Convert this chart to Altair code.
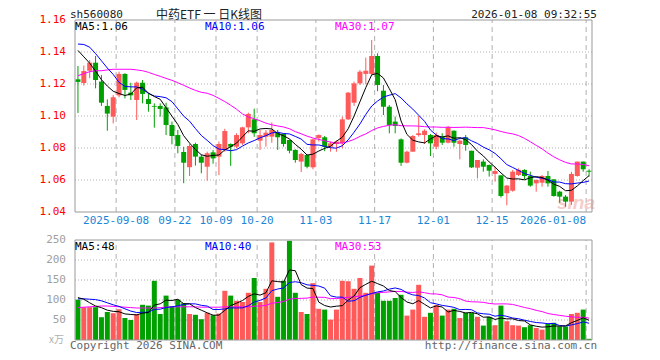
import altair as alt
import pandas as pd

# ---------------- data ----------------
opens = [1.1229,1.1206,1.1283,1.1333,1.1215,1.1063,1.0996,1.1129,1.1263,1.1146,
         1.1100,1.1208,1.1106,1.1063,1.1063,1.1054,1.0944,1.0881,1.0775,1.0680,
         1.0825,1.0746,1.0683,1.0773,1.0746,1.0788,1.0825,1.0808,1.0829,1.0929,
         1.0979,1.0846,1.0871,1.0871,1.0896,1.0888,1.0850,1.0788,1.0715,1.0756,
         1.0679,1.0862,1.0867,1.0808,1.0825,1.0829,1.0979,1.1083,1.1204,1.1263,
         1.1263,1.1375,1.1158,1.1058,1.0965,1.0854,1.0708,1.0777,1.0881,1.0881,
         1.0881,1.0808,1.0871,1.0833,1.0908,1.0825,1.0867,1.0783,1.0677,1.0715,
         1.0694,1.0638,1.0629,1.0517,1.0533,1.0631,1.0663,1.0625,1.0579,1.0583,
         1.0625,1.0604,1.0527,1.0496,1.0465,1.0625,1.0715,1.0658]
closes = [1.1213,1.1281,1.1333,1.1225,1.1083,1.1015,1.1117,1.1263,1.1163,1.1129,
          1.1208,1.1138,1.1075,1.1058,1.1044,1.0944,1.0875,1.0813,1.0708,1.0813,
          1.0746,1.0708,1.0767,1.0735,1.0825,1.0906,1.0808,1.0881,1.0929,1.1013,
          1.0892,1.0881,1.0896,1.0913,1.0867,1.0825,1.0783,1.0725,1.0763,1.0683,
          1.0854,1.0881,1.0808,1.0829,1.0840,1.0979,1.1146,1.1204,1.1277,1.1283,
          1.1375,1.1194,1.1058,1.0944,1.0938,1.0708,1.0777,1.0875,1.0892,1.0908,
          1.0829,1.0881,1.0833,1.0929,1.0833,1.0846,1.0819,1.0679,1.0725,1.0683,
          1.0658,1.0656,1.0500,1.0565,1.0652,1.0663,1.0625,1.0565,1.0600,1.0625,
          1.0579,1.0500,1.0496,1.0465,1.0638,1.0715,1.0667,1.0652]
highs = [1.1313,1.1315,1.1350,1.1375,1.1256,1.1104,1.1131,1.1277,1.1267,1.1208,
         1.1215,1.1225,1.1142,1.1079,1.1079,1.1083,1.0965,1.0913,1.0808,1.0825,
         1.0833,1.0760,1.0777,1.0787,1.0840,1.0920,1.0829,1.0892,1.0933,1.1021,
         1.1046,1.0913,1.0913,1.0960,1.0913,1.0892,1.0854,1.0792,1.0769,1.0760,
         1.0858,1.0885,1.0875,1.0840,1.0846,1.0996,1.1150,1.1215,1.1288,1.1365,
         1.1475,1.1392,1.1194,1.1069,1.0996,1.0860,1.0783,1.0881,1.1000,1.0917,
         1.0888,1.0896,1.0892,1.0938,1.0910,1.0854,1.0881,1.0783,1.0725,1.0729,
         1.0696,1.0683,1.0629,1.0569,1.0663,1.0673,1.0667,1.0652,1.0604,1.0631,
         1.0656,1.0604,1.0533,1.0506,1.0652,1.0715,1.0715,1.0667]
lows = [1.1019,1.1190,1.1236,1.1173,1.1063,1.0908,1.0954,1.1117,1.1110,1.1100,
        1.0975,1.1079,1.1027,1.0927,1.0996,1.0881,1.0823,1.0767,1.0580,1.0625,
        1.0690,1.0642,1.0596,1.0702,1.0631,1.0777,1.0688,1.0798,1.0819,1.0892,
        1.0870,1.0788,1.0808,1.0833,1.0788,1.0808,1.0767,1.0708,1.0650,1.0673,
        1.0667,1.0840,1.0780,1.0777,1.0777,1.0798,1.0975,1.1063,1.1194,1.1198,
        1.1256,1.1155,1.1006,1.0892,1.0892,1.0688,1.0704,1.0777,1.0871,1.0825,
        1.0750,1.0792,1.0819,1.0829,1.0808,1.0729,1.0783,1.0675,1.0610,1.0652,
        1.0621,1.0590,1.0490,1.0442,1.0527,1.0625,1.0604,1.0558,1.0527,1.0558,
        1.0558,1.0496,1.0458,1.0433,1.0444,1.0621,1.0652,1.0621]
volumes = [101,82,82,82,57,70,67,77,55,50,
           65,88,86,148,65,111,84,101,92,65,
           63,52,68,62,66,123,111,98,95,118,
           155,95,128,244,108,148,248,118,70,65,
           142,78,76,51,76,148,147,128,155,118,
           186,118,98,98,105,113,61,76,138,58,
           68,87,61,76,78,55,68,68,58,36,
           58,37,86,47,37,36,32,37,30,26,
           40,43,34,34,65,68,76,3]

# moving-average values before enough visible history
ma5_head = [1.1410,1.1370,1.1330,1.1280]
ma10_head = [1.1450,1.1447,1.1430,1.1390,1.1345,1.1300,1.1260,1.1210,1.1185]
ma30_head = [1.1252,1.1265,1.1277,1.1283,1.1283,1.1288,1.1292,1.1292,1.1292,1.1292,
             1.1288,1.1283,1.1273,1.1260,1.1248,1.1235,1.1223,1.1208,1.1192,1.1175,
             1.1160,1.1148,1.1142,1.1129,1.1110,1.1090,1.1067,1.1042,1.1013]
vma5_head = [106,102,93,85]
vma10_head = [103,103,102,101,98,93,88,84,78]
vma30_head = [81,82,83,84,85,85,84,83,82,81,80,80,80,80,81,82,83,83,83,83,
              83,82,82,82,82,83,83,83,83]

tick_index = [7,17,24,31,41,51,61,71,87]
tick_labels = ["2025-09-08","09-22","10-09","10-20","11-03","11-17","12-01","12-15","2026-01-08"]
price_ticks = [1.04,1.06,1.08,1.10,1.12,1.14,1.16]
vol_ticks = [50,100,150,200,250]
legend_price = ["MA5:1.06","MA10:1.06","MA30:1.07"]
legend_vol = ["MA5:48","MA10:40","MA30:53"]

# ---------------- build tables ----------------
n = len(closes)
def moving(values, k, head):
    s = pd.Series(values, dtype=float).rolling(k).mean()
    s.iloc[:k-1] = head
    return s.values

df = pd.DataFrame({
    "x": [i + 0.5 for i in range(n)],
    "open": opens, "close": closes, "high": highs, "low": lows, "vol": volumes,
})
df["dir"] = ["up" if c >= o else "down" for o, c in zip(opens, closes)]
df["ma5"] = moving(closes, 5, ma5_head)
df["ma10"] = moving(closes, 10, ma10_head)
df["ma30"] = moving(closes, 30, ma30_head)
df["vma5"] = moving(volumes, 5, vma5_head)
df["vma10"] = moving(volumes, 10, vma10_head)
df["vma30"] = moving(volumes, 30, vma30_head)

ticks_df = pd.DataFrame({"i": tick_index, "label": tick_labels})
ptick_df = pd.DataFrame({"v": price_ticks})
pgrid_df = pd.DataFrame({"v": price_ticks[1:-1]})
vtick_df = pd.DataFrame({"v": vol_ticks})
vgrid_df = pd.DataFrame({"v": vol_ticks[:-1]})

# ---------------- styling ----------------
RED = "#ff5a5a"
GREEN = "#00a000"
GRID = "#b0b0b0"
BORDER = "#999999"
MONO = "DejaVu Sans Mono"
W, H = 527, 320

xs = alt.Scale(domain=[0, n], nice=False, zero=False)
ps = alt.Scale(domain=[1.04, 1.16], range=[192, 0], nice=False, zero=False)
vs = alt.Scale(domain=[0, 250], range=[320, 220], nice=False, zero=False)

def X(field):
    return alt.X(field, type="quantitative", scale=xs, axis=None)
def YP(field):
    return alt.Y(field, type="quantitative", scale=ps, axis=None)
def YV(field):
    return alt.Y(field, type="quantitative", scale=vs, axis=None)

colcond = alt.condition("datum.dir == 'up'", alt.value(RED), alt.value(GREEN))
layers = []

# grids - price panel
layers.append(alt.Chart(pgrid_df).mark_rule(color=GRID, strokeDash=[1, 2], strokeWidth=1).encode(
    x=alt.X(datum=0, scale=xs, axis=None), x2=alt.X2(datum=n), y=YP("v")))
layers.append(alt.Chart(ticks_df).mark_rule(color=GRID, strokeDash=[5, 4], strokeWidth=1).encode(
    x=X("i"), y=alt.Y(datum=1.04, scale=ps, axis=None), y2=alt.Y2(datum=1.16)))
# grids - volume panel
layers.append(alt.Chart(vgrid_df).mark_rule(color=GRID, strokeDash=[1, 2], strokeWidth=1).encode(
    x=alt.X(datum=0, scale=xs, axis=None), x2=alt.X2(datum=n), y=YV("v")))
layers.append(alt.Chart(ticks_df).mark_rule(color=GRID, strokeDash=[5, 4], strokeWidth=1).encode(
    x=X("i"), y=alt.Y(datum=0, scale=vs, axis=None), y2=alt.Y2(datum=250)))

# watermark
layers.append(alt.Chart(pd.DataFrame({"t": ["sina"]})).mark_text(
    align="right", baseline="middle", fontSize=19, fontStyle="italic", fontWeight="bold",
    color="#f6cccc", font="Arial").encode(x=alt.value(W - 2), y=alt.value(183), text="t:N"))

# candles
layers.append(alt.Chart(df).mark_rule(strokeWidth=1).encode(
    x=X("x"), y=YP("low"), y2=alt.Y2("high"), color=colcond))
layers.append(alt.Chart(df).mark_bar(size=5).encode(
    x=X("x"), y=YP("open"), y2=alt.Y2("close"), color=colcond))

# price MAs
for f, c in [("ma30", "#ff00ff"), ("ma10", "#0000ff"), ("ma5", "#000000")]:
    layers.append(alt.Chart(df).mark_line(color=c, strokeWidth=1).encode(x=X("x"), y=YP(f)))

# volume bars
layers.append(alt.Chart(df).mark_bar(size=5).encode(x=X("x"), y=YV("vol"), color=colcond))
for f, c in [("vma30", "#ff00ff"), ("vma10", "#0000ff"), ("vma5", "#000000")]:
    layers.append(alt.Chart(df).mark_line(color=c, strokeWidth=1).encode(x=X("x"), y=YV(f)))

# panel borders
layers.append(alt.Chart(pd.DataFrame({"a": [0]})).mark_rect(fillOpacity=0, stroke=BORDER, strokeWidth=1).encode(
    x=alt.X(datum=0, scale=xs, axis=None), x2=alt.X2(datum=n),
    y=alt.Y(datum=1.04, scale=ps, axis=None), y2=alt.Y2(datum=1.16)))
layers.append(alt.Chart(pd.DataFrame({"a": [0]})).mark_rect(fillOpacity=0, stroke=BORDER, strokeWidth=1).encode(
    x=alt.X(datum=0, scale=xs, axis=None), x2=alt.X2(datum=n),
    y=alt.Y(datum=0, scale=vs, axis=None), y2=alt.Y2(datum=250)))

# axis labels
layers.append(alt.Chart(ptick_df).mark_text(align="right", baseline="middle", font=MONO, fontSize=11,
                                            color="#ff0000").encode(
    x=alt.value(-4), y=YP("v"), text=alt.Text("v:Q", format=".2f")))
layers.append(alt.Chart(vtick_df).mark_text(align="right", baseline="middle", font=MONO, fontSize=11,
                                            color="#a0a0a0").encode(
    x=alt.value(-4), y=YV("v"), text=alt.Text("v:Q", format="d")))
layers.append(alt.Chart(pd.DataFrame({"v": [0], "t": ["x万"]})).mark_text(
    align="right", baseline="middle", font="Noto Sans CJK SC", fontSize=10, color="#b0b0b0").encode(
    x=alt.value(-6), y=YV("v"), text="t:N"))
layers.append(alt.Chart(ticks_df.iloc[:-1]).mark_text(align="center", baseline="middle", font=MONO,
                                                      fontSize=11, color="#1a86d8").encode(
    x=X("i"), y=alt.value(201), text="label:N"))
layers.append(alt.Chart(ticks_df.iloc[-1:]).mark_text(align="right", baseline="middle", font=MONO,
                                                      fontSize=11, color="#1a86d8").encode(
    x=X("i"), y=alt.value(201), text="label:N"))

# legends inside panels
for k, (txt, c) in enumerate(zip(legend_price, ["#000000", "#0000ff", "#ff00ff"])):
    layers.append(alt.Chart(pd.DataFrame({"t": [txt]})).mark_text(
        align="left", baseline="middle", font=MONO, fontSize=11, color=c).encode(
        x=alt.value(5 + 130 * k), y=alt.value(7), text="t:N"))
for k, (txt, c) in enumerate(zip(legend_vol, ["#000000", "#0000ff", "#ff00ff"])):
    layers.append(alt.Chart(pd.DataFrame({"t": [txt]})).mark_text(
        align="left", baseline="middle", font=MONO, fontSize=11, color=c).encode(
        x=alt.value(5 + 130 * k), y=alt.value(227), text="t:N"))

# header and footer
layers.append(alt.Chart(pd.DataFrame({"t": ["sh560080"]})).mark_text(
    align="left", baseline="middle", font=MONO, fontSize=11, color="#222222").encode(
    x=alt.value(0), y=alt.value(-5), text="t:N"))
layers.append(alt.Chart(pd.DataFrame({"t": ["中药ETF 一 日K线图"]})).mark_text(
    align="center", baseline="middle", font="Noto Sans CJK SC", fontSize=12, color="#222222").encode(
    x=alt.value(139), y=alt.value(-5.5), text="t:N"))
layers.append(alt.Chart(pd.DataFrame({"t": ["2026-01-08 09:32:55"]})).mark_text(
    align="right", baseline="middle", font=MONO, fontSize=11, color="#222222").encode(
    x=alt.value(W), y=alt.value(-5), text="t:N"))
layers.append(alt.Chart(pd.DataFrame({"t": ["Copyright 2026 SINA.COM"]})).mark_text(
    align="left", baseline="middle", font=MONO, fontSize=11, color="#666666").encode(
    x=alt.value(0), y=alt.value(326), text="t:N"))
layers.append(alt.Chart(pd.DataFrame({"t": ["http://finance.sina.com.cn"]})).mark_text(
    align="right", baseline="middle", font=MONO, fontSize=11, color="#666666").encode(
    x=alt.value(W), y=alt.value(326), text="t:N"))

chart = alt.layer(*layers).resolve_scale(y="independent").properties(
    width=W, height=H,
    autosize=alt.AutoSizeParams(type="none"),
    padding={"left": 62, "top": 12, "right": 55, "bottom": 12},
).configure_view(strokeWidth=0)

chart.save("out.html", embed_options={"renderer": "svg", "actions": False})
